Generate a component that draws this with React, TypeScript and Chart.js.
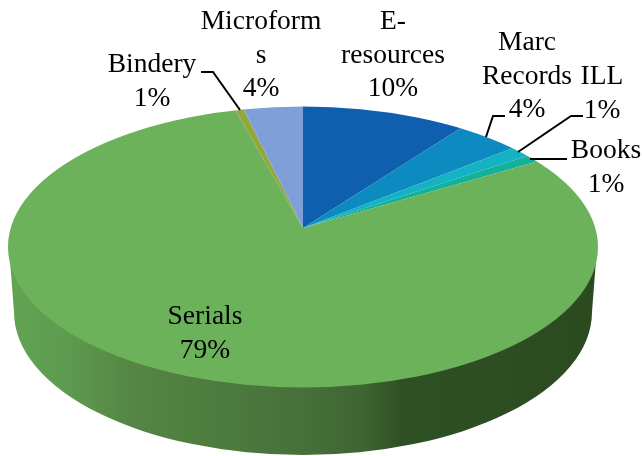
import React, { useEffect, useRef } from "react";
import { Chart, registerables } from "chart.js";

Chart.register(...registerables);

const categories = ["E-resources", "Marc Records", "ILL", "Books", "Serials", "Bindery", "Microforms"];
const values = [10, 4, 1.3, 0.9, 79.7, 0.5, 3.6];
const percentLabels = ["10%", "4%", "1%", "1%", "79%", "1%", "4%"];
const colors = ["#0f5fae", "#0d8abf", "#15b2c6", "#12b19a", "#6cb25a", "#93a83b", "#7f9fd8"];

const FONT = '27.5px "Liberation Serif", serif';
const face = { cx: 303, cy: 247, rx: 295, ry: 140.5 };
const base = { cx: 303, cy: 312, rx: 289, ry: 143 };
const apex = { x: 303, y: 228, sx: 1.6, sy: 0.736 };

const textBlocks: { lines: string[]; x: number; y: number }[] = [
  { lines: ["E-", "resources", percentLabels[0]], x: 393, y: 22 },
  { lines: ["Marc", "Records", percentLabels[1]], x: 527, y: 43 },
  { lines: ["ILL", percentLabels[2]], x: 602, y: 77 },
  { lines: ["Books", percentLabels[3]], x: 606, y: 151 },
  { lines: ["Serials", percentLabels[4]], x: 205, y: 317 },
  { lines: ["Bindery", percentLabels[5]], x: 152, y: 65 },
  { lines: ["Microform", "s", percentLabels[6]], x: 261, y: 22 },
];
const leaders: number[][][] = [
  [[505, 116], [493, 116], [486, 137]],
  [[583, 116], [571, 116], [518, 152]],
  [[567, 159], [530, 159]],
  [[201, 72], [213, 72], [240, 110]],
];

const pie3d = {
  id: "pie3d",
  beforeDatasetsDraw(chart: Chart) {
    const ctx = chart.ctx;
    const a = chart.chartArea;
    const g = ctx.createLinearGradient(base.cx - base.rx, 0, base.cx + base.rx, 0);
    g.addColorStop(0, "#62a353");
    g.addColorStop(0.08, "#5e9c50");
    g.addColorStop(0.15, "#5a9049");
    g.addColorStop(0.2, "#558645");
    g.addColorStop(0.32, "#4f7e3f");
    g.addColorStop(0.5, "#47703a");
    g.addColorStop(0.6, "#3f6632");
    g.addColorStop(0.67, "#2f5025");
    g.addColorStop(1, "#2b4a20");
    ctx.save();
    ctx.fillStyle = g;
    ctx.beginPath();
    ctx.moveTo(face.cx - face.rx + 1, face.cy);
    ctx.lineTo(base.cx - base.rx, base.cy);
    ctx.ellipse(base.cx, base.cy, base.rx, base.ry, 0, Math.PI, 0, true);
    ctx.lineTo(face.cx + face.rx - 1, face.cy);
    ctx.closePath();
    ctx.fill();
    ctx.restore();

    ctx.save();
    ctx.beginPath();
    ctx.ellipse(face.cx, face.cy, face.rx, face.ry, 0, 0, Math.PI * 2);
    ctx.clip();
    ctx.translate(apex.x, apex.y);
    ctx.scale(apex.sx, apex.sy);
    ctx.translate(-(a.left + a.right) / 2, -(a.top + a.bottom) / 2);
  },
  afterDatasetsDraw(chart: Chart) {
    const ctx = chart.ctx;
    ctx.restore();
    ctx.save();
    ctx.strokeStyle = "#000";
    ctx.lineWidth = 2;
    for (const pts of leaders) {
      ctx.beginPath();
      pts.forEach(([x, y], i) => (i ? ctx.lineTo(x, y) : ctx.moveTo(x, y)));
      ctx.stroke();
    }
    ctx.fillStyle = "#000";
    ctx.font = FONT;
    ctx.textAlign = "center";
    ctx.textBaseline = "middle";
    for (const b of textBlocks) {
      b.lines.forEach((t, i) => ctx.fillText(t, b.x, b.y + i * 33.5));
    }
    ctx.restore();
  },
};

export default function App() {
  const ref = useRef<HTMLCanvasElement>(null);
  useEffect(() => {
    const chart = new Chart(ref.current!, {
      type: "pie",
      data: {
        labels: categories,
        datasets: [{ data: values, backgroundColor: colors, borderWidth: 0, clip: false } as any],
      },
      options: {
        animation: false,
        responsive: false,
        events: [],
        layout: { padding: 0 },
        plugins: { legend: { display: false }, tooltip: { enabled: false } },
      },
      plugins: [pie3d as any],
    });
    return () => chart.destroy();
  }, []);
  return (
    <div style={{ position: "fixed", left: 0, top: 0, width: 642, height: 456, background: "#fff" }}>
      <canvas ref={ref} width={642} height={456} style={{ display: "block" }} />
    </div>
  );
}
